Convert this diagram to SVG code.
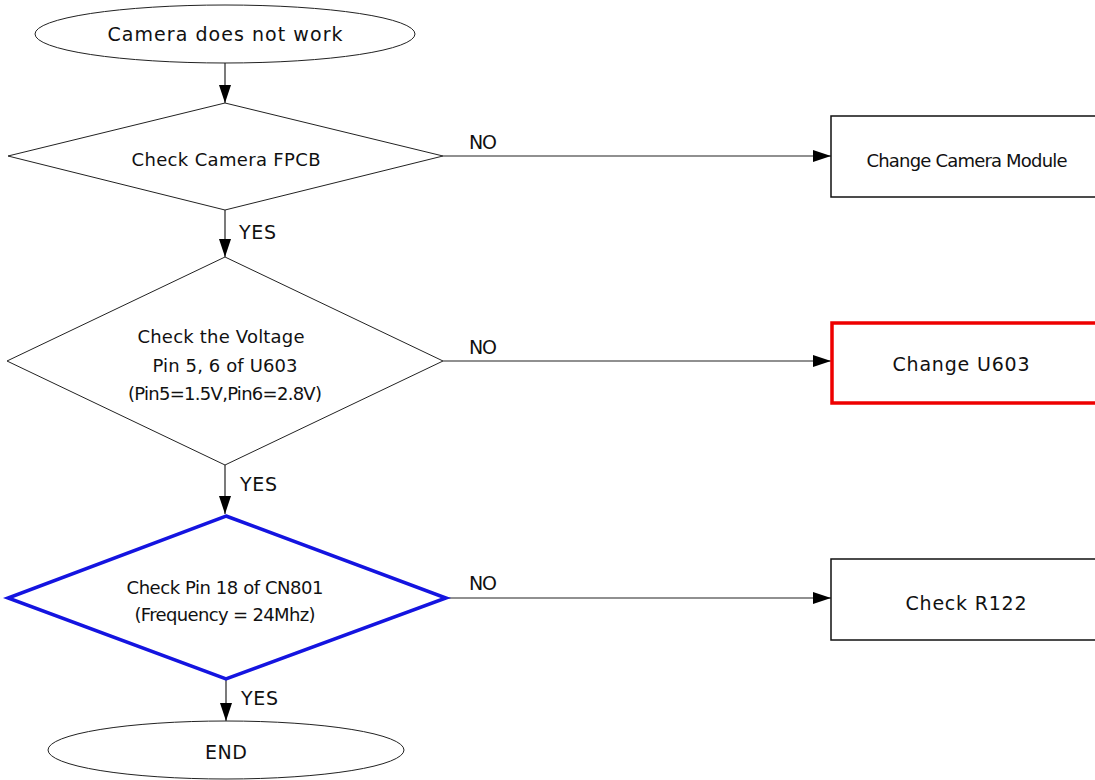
<svg xmlns="http://www.w3.org/2000/svg" width="1095" height="780" viewBox="0 0 1095 780">
<defs>
<marker id="arr" markerUnits="userSpaceOnUse" markerWidth="18" markerHeight="12" viewBox="0 0 18 12" refX="18" refY="6" orient="auto">
<path d="M0,0 L18,6 L0,12 z" fill="#000"/>
</marker>
</defs>
<style>
text{font-family:"DejaVu Sans",Verdana,sans-serif;font-size:19px;fill:#111;text-anchor:middle}
.n{font-size:18px}
.lbl{text-anchor:start}
.thin{fill:#fff;stroke:#222;stroke-width:1}
.box{fill:#fff;stroke:#111;stroke-width:1.5}
.red{fill:#fff;stroke:#ee0000;stroke-width:3.5}
.blue{fill:#fff;stroke:#1414e0;stroke-width:3.5}
.conn line{stroke:#222;stroke-width:1.2;marker-end:url(#arr)}
</style>
<rect width="1095" height="780" fill="#fff"/>
<g class="conn" id="connectors">
<line x1="225" y1="62" x2="225" y2="103"/>
<line x1="443" y1="156" x2="831" y2="156"/>
<line x1="225" y1="210" x2="225" y2="257"/>
<line x1="443" y1="361" x2="831" y2="361"/>
<line x1="225" y1="465" x2="225" y2="514"/>
<line x1="446" y1="598" x2="831" y2="598"/>
<line x1="226" y1="679" x2="226" y2="721"/>
</g>
<g id="labels">
<text class="lbl" x="469" y="149" textLength="28">NO</text>
<text class="lbl" x="239" y="239" textLength="37">YES</text>
<text class="lbl" x="469" y="354" textLength="28">NO</text>
<text class="lbl" x="240" y="491" textLength="37">YES</text>
<text class="lbl" x="469" y="590" textLength="28">NO</text>
<text class="lbl" x="241" y="705" textLength="37">YES</text>
</g>
<g id="start">
<ellipse class="thin" cx="225" cy="34" rx="190" ry="29"/>
<text x="225" y="41" textLength="235">Camera does not work</text>
</g>
<g id="check-fpcb">
<polygon class="thin" points="225,103 443,156 225,210 8,156"/>
<text class="n" x="226" y="166" textLength="189">Check Camera FPCB</text>
</g>
<g id="change-module">
<rect class="box" x="831" y="116" width="270" height="81"/>
<text class="n" x="967" y="167" textLength="201">Change Camera Module</text>
</g>
<g id="check-voltage">
<polygon class="thin" points="225,257 443,361 225,465 7,361"/>
<text class="n" x="221" y="343" textLength="167">Check the Voltage</text>
<text class="n" x="225" y="372" textLength="145">Pin 5, 6 of U603</text>
<text class="n" x="225" y="400" textLength="194">(Pin5=1.5V,Pin6=2.8V)</text>
</g>
<g id="change-u603">
<rect class="red" x="832" y="323" width="270" height="80"/>
<text x="961" y="371" textLength="137">Change U603</text>
</g>
<g id="check-pin18">
<polygon class="blue" points="226,516 446,598 226,679 8,598"/>
<text class="n" x="225" y="594" textLength="197">Check Pin 18 of CN801</text>
<text class="n" x="225" y="621" textLength="181">(Frequency = 24Mhz)</text>
</g>
<g id="check-r122">
<rect class="box" x="831" y="559" width="270" height="81"/>
<text x="966" y="610" textLength="121">Check R122</text>
</g>
<g id="end">
<ellipse class="thin" cx="226" cy="750" rx="178" ry="29"/>
<text x="226" y="759" textLength="42">END</text>
</g>
</svg>
